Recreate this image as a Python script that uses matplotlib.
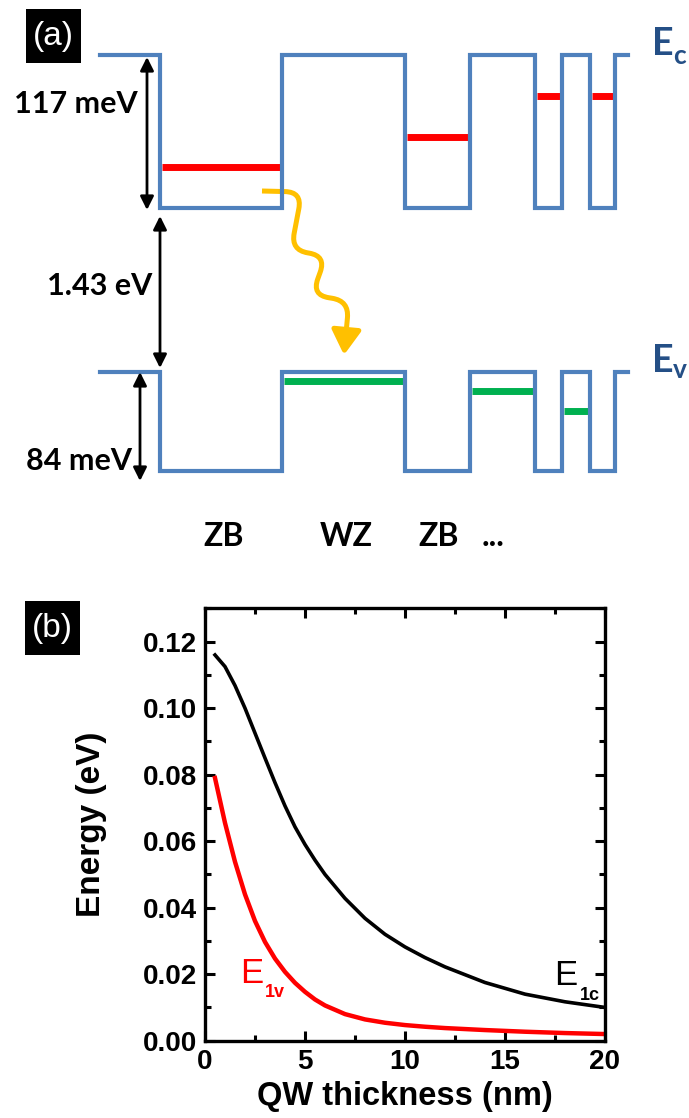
import numpy as np
import matplotlib
matplotlib.use('Agg')
from matplotlib import pyplot as plt
from matplotlib.path import Path
from matplotlib.patches import FancyArrowPatch, Rectangle
from matplotlib.ticker import MultipleLocator, FormatStrFormatter

# ---- panel (a): schematic band diagram, laid out in figure pixels ----
edges = [100, 160, 282, 405, 470, 535, 562, 590, 615, 628]
is_well = [False, True, False, True, False, True, False, True, False]
ec_top, ec_bottom = 55, 208
ev_top, ev_bottom = 372, 471
e_levels = {1: 167, 3: 137, 5: 96, 7: 96}      # electron levels in ZB wells
h_levels = {2: 381, 4: 391, 6: 411}            # hole levels in WZ segments
phases = ['ZB', 'WZ', 'ZB', '...']
phase_x = [224, 346, 439, 493]

# ---- panel (b): confinement energies vs QW thickness ----
thickness = [0.5, 1, 1.5, 2, 2.5, 3, 3.5, 4, 4.5, 5, 5.5, 6, 7, 8, 9, 10,
             11, 12, 14, 16, 18, 20]
e1c = [0.1160, 0.1125, 0.1068, 0.1000, 0.0925, 0.0850, 0.0776, 0.0706,
       0.0643, 0.0590, 0.0543, 0.0500, 0.0428, 0.0368, 0.0320, 0.0282,
       0.0250, 0.0222, 0.0175, 0.0140, 0.0117, 0.0100]
e1v = [0.0790, 0.0655, 0.0538, 0.0440, 0.0360, 0.0297, 0.0247, 0.0207,
       0.0174, 0.0147, 0.0124, 0.0106, 0.0080, 0.0064, 0.0054, 0.0047,
       0.0042, 0.0038, 0.0032, 0.0027, 0.0023, 0.0020]

W, H = 689, 1118
fig = plt.figure(figsize=(W / 100, H / 100), dpi=100)

canvas = fig.add_axes([0, 0, 1, 1])
canvas.set_xlim(0, W)
canvas.set_ylim(H, 0)
canvas.axis('off')

blue = '#4F81BD'
dark_blue = '#244F86'
tfont = 'Lato'


def band(top, bottom):
    xs, ys = [], []
    for i in range(len(is_well)):
        y = bottom if is_well[i] else top
        xs += [edges[i], edges[i + 1]]
        ys += [y, y]
    canvas.plot(xs, ys, color=blue, lw=3, solid_joinstyle='miter', zorder=2)


band(ec_top, ec_bottom)
band(ev_top, ev_bottom)

for i, y in e_levels.items():
    canvas.plot([edges[i] + 2, edges[i + 1] - 2], [y, y], color='#FF0000',
                lw=5, solid_capstyle='butt', zorder=1)
for i, y in h_levels.items():
    canvas.plot([edges[i] + 2, edges[i + 1] - 2], [y, y], color='#00B050',
                lw=5, solid_capstyle='butt', zorder=1)


# double headed arrows
def dbl_arrow(x, y0, y1):
    canvas.annotate('', xy=(x, y1), xytext=(x, y0),
                    arrowprops=dict(arrowstyle='<|-|>', color='black', lw=2,
                                    mutation_scale=20, shrinkA=0, shrinkB=0))


dbl_arrow(147, 57, 210)
dbl_arrow(160, 216, 368)
dbl_arrow(140, 372, 481)

canvas.text(76, 104, '117 meV', fontfamily=tfont, fontweight='bold',
            fontsize=22, ha='center', va='center')
canvas.text(100, 286, '1.43 eV', fontfamily=tfont, fontweight='bold',
            fontsize=22, ha='center', va='center')
canvas.text(79, 461, '84 meV', fontfamily=tfont, fontweight='bold',
            fontsize=22, ha='center', va='center')

for lab, x in zip(phases, phase_x):
    canvas.text(x, 546, lab, fontfamily=tfont, fontweight='bold',
                fontsize=23, ha='center', va='baseline')

canvas.text(652, 55, 'E', fontfamily=tfont, fontweight='bold', fontsize=27,
            color=dark_blue, va='baseline')
canvas.text(673, 64, 'c', fontfamily=tfont, fontweight='bold', fontsize=19,
            color=dark_blue, va='baseline')
canvas.text(652, 372, 'E', fontfamily=tfont, fontweight='bold', fontsize=27,
            color=dark_blue, va='baseline')
canvas.text(673, 378, 'v', fontfamily=tfont, fontweight='bold', fontsize=19,
            color=dark_blue, va='baseline')


# wavy photon arrow
def rounded(pts, r):
    verts = [pts[0]]
    codes = [Path.MOVETO]
    for i in range(1, len(pts) - 1):
        p0, p1, p2 = (np.array(pts[j], float) for j in (i - 1, i, i + 1))
        d1 = p0 - p1
        d2 = p2 - p1
        l1 = np.hypot(*d1)
        l2 = np.hypot(*d2)
        a = p1 + d1 / l1 * min(r, l1 / 2)
        b = p1 + d2 / l2 * min(r, l2 / 2)
        verts += [a, p1, b]
        codes += [Path.LINETO, Path.CURVE3, Path.CURVE3]
    verts.append(pts[-1])
    codes.append(Path.LINETO)
    return Path(verts, codes)


wave = [(262, 191), (302, 192), (291, 250), (326, 256), (312, 295),
        (349, 301), (344, 355)]
canvas.add_patch(FancyArrowPatch(path=rounded(wave, 17),
                                 arrowstyle='-|>,head_length=0.75,head_width=0.45',
                                 mutation_scale=20, color='#FFC000', lw=3.6,
                                 joinstyle='round', capstyle='butt'))

# panel labels
for (x0, y0, txt) in [(26, 9, '(a)'), (25, 601, '(b)')]:
    canvas.add_patch(Rectangle((x0, y0), 55, 54, facecolor='black',
                               edgecolor='none'))
    canvas.text(x0 + 27.5, y0 + 28, txt, color='white', fontsize=24,
                fontfamily='Liberation Sans', ha='center', va='center')

# ---- panel (b) plot ----
ax = fig.add_axes([205 / W, 1 - 1040.7 / H, 400 / W, 432.3 / H])
ax.plot(thickness, e1c, color='black', lw=2.6)
ax.plot(thickness, e1v, color='#FF0000', lw=3.2)
ax.set_xlim(0, 20)
ax.set_ylim(0, 0.13)
ax.xaxis.set_major_locator(MultipleLocator(5))
ax.xaxis.set_minor_locator(MultipleLocator(2.5))
ax.yaxis.set_major_locator(MultipleLocator(0.02))
ax.yaxis.set_minor_locator(MultipleLocator(0.01))
ax.yaxis.set_major_formatter(FormatStrFormatter('%.2f'))
ax.tick_params(which='both', direction='in', top=True, right=True, width=2.2)
ax.tick_params(which='major', length=7, pad=6)
ax.tick_params(which='minor', length=4.5)
for s in ax.spines.values():
    s.set_linewidth(2.4)
for lab in ax.get_xticklabels() + ax.get_yticklabels():
    lab.set_fontfamily('Liberation Sans')
    lab.set_fontweight('bold')
    lab.set_fontsize(20)
ax.set_xlabel('QW thickness (nm)', fontfamily='Liberation Sans',
              fontweight='bold', fontsize=23.5, labelpad=4)
ax.set_ylabel('Energy (eV)', fontfamily='Liberation Sans',
              fontweight='bold', fontsize=24)
ax.yaxis.set_label_coords(-0.245, 0.5)

ax.text(1.75, 0.0173, 'E', color='#FF0000', fontfamily='Liberation Sans',
        fontsize=25, va='baseline')
ax.text(3.0, 0.0130, '1v', color='#FF0000', fontfamily='Liberation Sans',
        fontweight='bold', fontsize=13, va='baseline')
ax.text(17.45, 0.0167, 'E', color='black', fontfamily='Liberation Sans',
        fontsize=25, va='baseline')
ax.text(18.75, 0.0122, '1c', color='black', fontfamily='Liberation Sans',
        fontweight='bold', fontsize=13, va='baseline')

fig.savefig('out.png', dpi=100)
